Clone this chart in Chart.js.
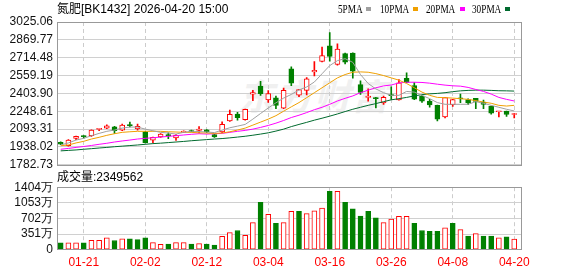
<!DOCTYPE html>
<html>
<head>
<meta charset="utf-8">
<script src="https://cdn.jsdelivr.net/npm/chart.js@4.4.1/dist/chart.umd.min.js"></script>
<style>
  body { margin: 0; background: #fff; }
  #wrap { position: relative; width: 578px; height: 276px; overflow: hidden; font-family: "Liberation Sans", "Noto Sans CJK SC", sans-serif; }
  canvas { position: absolute; left: 0; }
  #main { top: 0; }
  #vol { top: 176px; }
  .t { position: absolute; font-size: 12px; line-height: 14px; color: #000; white-space: nowrap; }
  .lg { position: absolute; top: 2px; font: 12px "Liberation Serif", serif; line-height: 14px; color: #000; white-space: nowrap; transform: scaleX(0.77); transform-origin: left top; }
  .box { position: absolute; top: 7px; width: 5px; height: 4px; }
  #wm { position: absolute; left: 238px; top: 68px; font: bold italic 36px "Noto Sans CJK SC"; color: #f0f0f0; letter-spacing: 2px; }
</style>
</head>
<body>
<div id="wrap">
  <div id="wm">东方财富</div>
  <canvas id="main" width="578" height="176"></canvas>
  <canvas id="vol" width="578" height="100"></canvas>
  <div class="t" style="left:57px;top:2px">氮肥[BK1432] 2026-04-20 15:00</div>
  <div class="lg" style="left:338px">5PMA</div><div class="box" style="left:366px;background:#a0a0a0"></div>
  <div class="lg" style="left:380px">10PMA</div><div class="box" style="left:413px;background:#f0a000"></div>
  <div class="lg" style="left:426px">20PMA</div><div class="box" style="left:460px;background:#ff00ff"></div>
  <div class="lg" style="left:472px">30PMA</div><div class="box" style="left:505px;background:#006a2e"></div>
  <div class="t" style="left:57px;top:170px">成交量:2349562</div>
</div>
<script>
// trading days shown (MM-DD)
const dates = ['01-16','01-19','01-20','01-21','01-22','01-23','01-26','01-27','01-28','01-29',
  '01-30','02-02','02-03','02-04','02-05','02-06','02-09','02-10','02-11','02-12',
  '02-13','02-24','02-25','02-26','02-27','03-02','03-03','03-04','03-05','03-06',
  '03-09','03-10','03-11','03-12','03-13','03-16','03-17','03-18','03-19','03-20',
  '03-23','03-24','03-25','03-26','03-27','03-30','03-31','04-01','04-02','04-03',
  '04-07','04-08','04-09','04-10','04-13','04-14','04-15','04-16','04-17','04-20'];
const labelIdx = [3, 11, 19, 27, 35, 43, 51, 59];

const open = [1979,1950,2013,2033,2036,2091,2102,2113,2083,2130,2095,2070,1998,2026,2045,2016,2065,2080,2082,2087,
  2045,2068,2165,2224,2176,2397,2467,2348,2365,2275,2618,2388,2430,2590,2682,2818,2655,2750,2755,2480,
  2368,2362,2320,2390,2348,2536,2473,2380,2337,2300,2200,2306,2360,2350,2360,2328,2292,2244,2249,2220];
const high = [1982,2003,2032,2038,2088,2100,2130,2118,2138,2155,2138,2073,2024,2055,2060,2045,2078,2085,2116,2090,
  2048,2157,2258,2240,2268,2430,2508,2428,2380,2450,2636,2440,2542,2680,2806,2933,2836,2755,2757,2513,
  2444,2369,2380,2462,2524,2582,2497,2388,2352,2302,2370,2353,2398,2356,2362,2345,2294,2247,2250,2231];
const low = [1958,1945,2001,2015,2030,2080,2098,2056,2080,2112,2085,1972,1975,2022,2010,1995,2062,2068,2059,2062,
  2020,2063,2160,2170,2172,2340,2386,2325,2270,2270,2472,2375,2390,2555,2678,2685,2650,2660,2536,2395,
  2337,2277,2308,2352,2345,2498,2350,2325,2284,2165,2190,2290,2324,2305,2272,2272,2223,2200,2203,2191];
const close = [1962,1998,2030,2028,2085,2093,2122,2079,2128,2124,2118,1975,2022,2050,2035,2040,2075,2072,2093,2068,
  2025,2135,2222,2192,2266,2410,2402,2403,2300,2430,2493,2437,2530,2605,2732,2726,2790,2676,2598,2412,
  2380,2358,2370,2385,2496,2500,2353,2336,2303,2180,2367,2350,2356,2320,2335,2308,2232,2246,2220,2224];

const ma5 = [1955,1973,1998,2013,2036,2056,2074,2085,2102,2111,2111,2093,2079,2065,2059,2050,2065,2074,2072,2068,
  2063,2085,2105,2119,2134,2180,2229,2277,2322,2363,2395,2434,2460,2503,2575,2646,2689,2706,2674,2568,
  2490,2443,2410,2387,2387,2421,2415,2387,2358,2324,2309,2309,2309,2309,2332,2318,2300,2283,2266,2251];
const ma10 = [1949,1955,1973,1987,2007,2022,2039,2053,2065,2070,2074,2074,2074,2074,2070,2068,2065,2065,2061,2059,
  2056,2059,2070,2085,2102,2128,2154,2180,2210,2249,2287,2324,2367,2410,2453,2496,2539,2568,2588,2591,
  2588,2576,2559,2539,2519,2490,2453,2415,2387,2369,2367,2363,2358,2352,2341,2329,2318,2300,2294,2300];
const ma20 = [1918,1925,1934,1942,1951,1961,1970,1981,1990,1998,2007,2013,2018,2024,2030,2036,2042,2048,2053,2050,
  2053,2056,2065,2074,2082,2093,2108,2125,2145,2168,2194,2214,2237,2262,2283,2309,2338,2361,2382,2410,
  2432,2453,2469,2477,2495,2501,2501,2499,2493,2484,2476,2470,2467,2456,2438,2421,2398,2369,2352,2338];
const ma30 = [1904,1908,1912,1918,1923,1929,1934,1940,1945,1950,1955,1961,1967,1971,1976,1981,1986,1992,1997,2002,
  2007,2011,2017,2024,2031,2040,2050,2061,2076,2093,2115,2134,2152,2171,2188,2206,2225,2246,2266,2283,
  2300,2315,2332,2348,2358,2369,2382,2393,2400,2404,2410,2419,2426,2430,2432,2432,2430,2427,2426,2424];

// volume in 万
const volume = [150,150,150,150,211,211,266,204,245,245,225,266,157,116,123,157,157,123,136,123,
  102,300,382,429,320,607,1063,791,593,607,859,859,811,872,934,1309,1309,1063,920,757,
  859,716,607,688,750,750,593,429,409,409,491,593,450,307,361,307,307,266,286,235];

const priceTicks = [3025.06, 2869.77, 2714.48, 2559.19, 2403.90, 2248.61, 2093.31, 1938.02, 1782.73];
const volTicks = [1404, 1053, 702, 351, 0];

const RED = '#ff0000';
const GREEN = '#008000';
const X_MIN = -0.48, X_MAX = 60.01;

const candleUp = close.map((c, i) => c >= open[i]);
const volUp = close.map((c, i) => i === 0 ? c >= open[0] : c >= close[i - 1]);

const framePlugin = {
  id: 'frame',
  afterDraw(chart) {
    const { ctx, chartArea: a } = chart;
    ctx.save();
    ctx.strokeStyle = '#999';
    ctx.lineWidth = 1;
    ctx.strokeRect(Math.round(a.left) + 0.5, Math.round(a.top) + 0.5,
      Math.round(a.right - a.left) - 1, Math.round(a.bottom - a.top));
    ctx.restore();
  }
};

const xTicks = (s) => { s.ticks = labelIdx.map(v => ({ value: v })); };
const tickFont = { family: 'Liberation Sans', size: 12 };

const maLine = (label, values, color) => ({
  type: 'line', label,
  data: values.map((v, i) => ({ x: i, y: v })),
  borderColor: color, borderWidth: 1, pointRadius: 0, tension: 0, order: 0
});

new Chart(document.getElementById('main'), {
  type: 'bar',
  data: {
    datasets: [
      maLine('5PMA', ma5, '#a0a0a0'),
      maLine('10PMA', ma10, '#f0a000'),
      maLine('20PMA', ma20, '#ff00ff'),
      maLine('30PMA', ma30, '#006a2e'),
      {
        label: 'body',
        data: open.map((o, i) => ({ x: i, y: [Math.min(o, close[i]), Math.max(o, close[i])] })),
        backgroundColor: candleUp.map(u => u ? '#ffffff' : GREEN),
        borderColor: candleUp.map(u => u ? RED : GREEN),
        borderWidth: 1, borderSkipped: false, barThickness: 5, minBarLength: 1,
        grouped: false, order: 1
      },
      {
        label: 'wick',
        data: low.map((l, i) => ({ x: i, y: [l, high[i]] })),
        backgroundColor: candleUp.map(u => u ? RED : GREEN),
        borderWidth: 0, barThickness: 1, grouped: false, order: 2
      }
    ]
  },
  options: {
    responsive: false, animation: false,
    layout: { padding: { top: 22, right: 56, bottom: 10, left: 0 } },
    plugins: { legend: { display: false }, tooltip: { enabled: false } },
    scales: {
      x: {
        type: 'linear', min: X_MIN, max: X_MAX, offset: false,
        afterBuildTicks: xTicks,
        ticks: { display: false },
        grid: { color: '#cccccc', drawTicks: false, offset: false },
        border: { display: false, dash: [4, 3] }
      },
      y: {
        type: 'linear', min: priceTicks[priceTicks.length - 1], max: priceTicks[0],
        afterBuildTicks: (s) => { s.ticks = priceTicks.map(v => ({ value: v })); },
        afterFit: (s) => { s.width = 57; },
        ticks: { autoSkip: false, padding: 4, color: '#111', font: tickFont, callback: v => v.toFixed(2) },
        grid: { color: '#d0d0d0', drawTicks: false },
        border: { display: false }
      }
    }
  },
  plugins: [framePlugin]
});

new Chart(document.getElementById('vol'), {
  type: 'bar',
  data: {
    datasets: [{
      label: '成交量',
      data: volume.map((v, i) => ({ x: i, y: v })),
      backgroundColor: volUp.map(u => u ? '#ffffff' : GREEN),
      borderColor: volUp.map(u => u ? RED : GREEN),
      borderWidth: 1, borderSkipped: false, barThickness: 5, grouped: false
    }]
  },
  options: {
    responsive: false, animation: false,
    layout: { padding: { top: 10, right: 56, bottom: 0, left: 0 } },
    plugins: { legend: { display: false }, tooltip: { enabled: false } },
    scales: {
      x: {
        type: 'linear', min: X_MIN, max: X_MAX, offset: false,
        afterBuildTicks: xTicks,
        ticks: { autoSkip: false, maxRotation: 0, padding: 6, color: RED, font: tickFont, callback: v => dates[v] },
        grid: { color: '#cccccc', drawTicks: false, offset: false },
        border: { display: false, dash: [4, 3] }
      },
      y: {
        type: 'linear', min: 0, max: volTicks[0],
        afterBuildTicks: (s) => { s.ticks = volTicks.map(v => ({ value: v })); },
        afterFit: (s) => { s.width = 57; },
        ticks: { autoSkip: false, padding: 4, color: '#111', font: tickFont, callback: v => v === 0 ? '0' : v + '万' },
        grid: { color: '#d0d0d0', drawTicks: false },
        border: { display: false }
      }
    }
  },
  plugins: [framePlugin]
});
</script>
</body>
</html>
